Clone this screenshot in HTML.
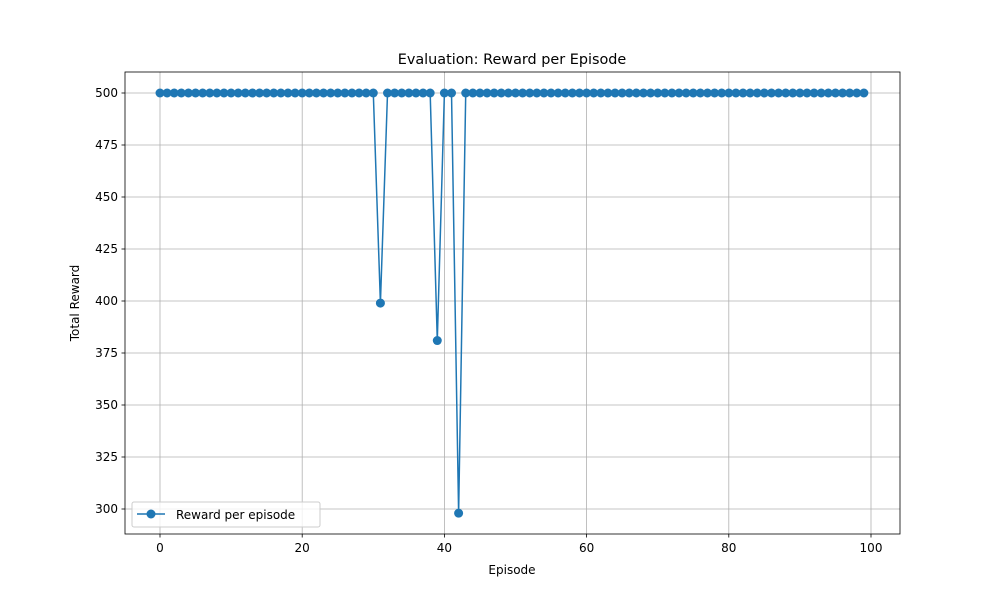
<!DOCTYPE html>
<html><head><meta charset="utf-8"><style>
body{margin:0;background:#fff;font-family:"Liberation Sans","DejaVu Sans",sans-serif;}
svg text{font-family:"DejaVu Sans","Liberation Sans",sans-serif;font-size:12px;fill:#000;}
</style></head><body>
<svg id="chart" width="1000" height="600">
<rect x="0" y="0" width="1000" height="600" fill="#fff"/>
<g id="grid"></g><g id="ticks"></g><g id="series"></g>
<rect x="125" y="72" width="775" height="462" fill="none" stroke="#000" stroke-width="0.8"/>
<text x="512" y="64" text-anchor="middle" style="font-size:14.4px">Evaluation: Reward per Episode</text>
<text x="512" y="574" text-anchor="middle">Episode</text>
<text transform="translate(79,303) rotate(-90)" text-anchor="middle">Total Reward</text>
<g>
<rect x="132" y="502" width="188" height="25" rx="2" fill="#fff" fill-opacity="0.8" stroke="#ccc"/>
<line x1="137" y1="514" x2="165" y2="514" stroke="#1f77b4" stroke-width="1.5"/>
<circle cx="151" cy="514" r="4.5" fill="#1f77b4"/>
<text x="176" y="519">Reward per episode</text>
</g>
</svg>
<script>
const dips = {31:399, 39:381, 42:298};
const rewards = [];
for (let i=0;i<100;i++) rewards.push(dips[i]!==undefined?dips[i]:500);
const xTicks=[0,20,40,60,80,100];
const yTicks=[300,325,350,375,400,425,450,475,500];
const X=v=>160+(v-0)*(871-160)/100;
const Y=v=>93+(500-v)*(509-93)/200;
const NS="http://www.w3.org/2000/svg";
const mk=(t,a,p)=>{const e=document.createElementNS(NS,t);for(const k in a)e.setAttribute(k,a[k]);p.appendChild(e);return e;};
const grid=document.getElementById('grid'),ticks=document.getElementById('ticks'),ser=document.getElementById('series');
xTicks.forEach(t=>{const x=X(t);
 mk('line',{x1:x,x2:x,y1:72,y2:534,stroke:'#b0b0b0','stroke-width':0.8},grid);
 mk('line',{x1:x,x2:x,y1:534,y2:537.5,stroke:'#000','stroke-width':0.8},ticks);
 const tx=mk('text',{x:x,y:552,'text-anchor':'middle'},ticks);tx.textContent=t;
 
 });
yTicks.forEach(t=>{const y=Y(t);
 mk('line',{x1:125,x2:900,y1:y,y2:y,stroke:'#b0b0b0','stroke-width':0.8},grid);
 mk('line',{x1:121.5,x2:125,y1:y,y2:y,stroke:'#000','stroke-width':0.8},ticks);
 const tx=mk('text',{x:118,y:y+4,'text-anchor':'end'},ticks);tx.textContent=t;
 
 });
const pl=mk('polyline',{points:rewards.map((v,i)=>X(i)+','+Y(v)).join(' '),fill:'none',stroke:'#1f77b4','stroke-width':1.5},ser);


rewards.forEach((v,i)=>{const c=mk('circle',{cx:X(i),cy:Y(v),r:4.5,fill:'#1f77b4'},ser);
 
 });
</script>
</body></html>
